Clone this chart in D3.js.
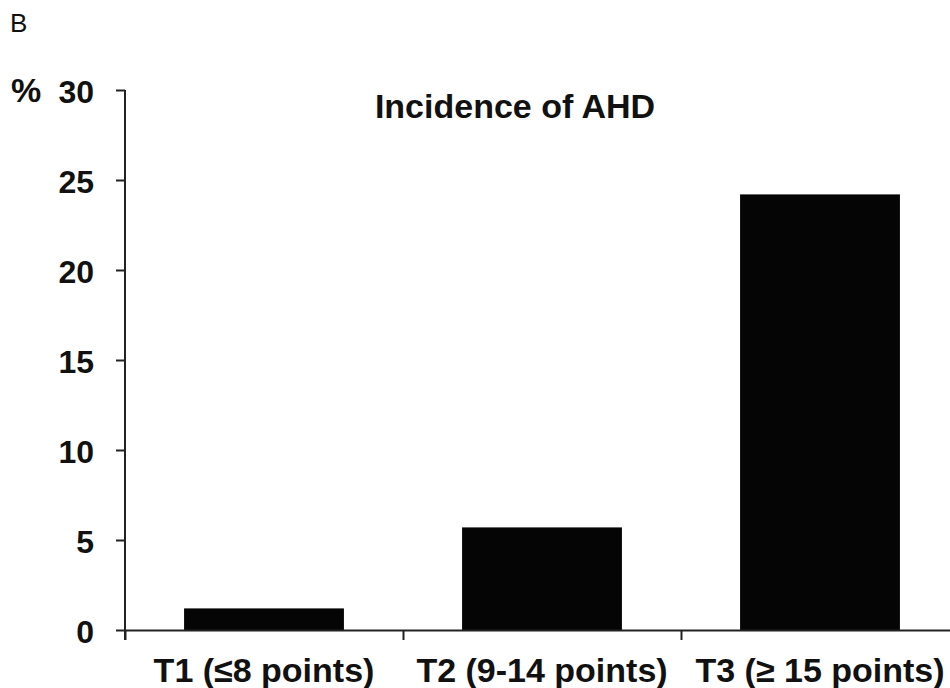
<!DOCTYPE html>
<html>
<head>
<meta charset="utf-8">
<script src="https://cdn.jsdelivr.net/npm/d3@7"></script>
<style>
  body { margin: 0; background: #fff; }
  svg { display: block; font-family: "Liberation Sans", Arial, sans-serif; }
  .tick text { font-size: 32px; font-weight: bold; fill: #111; }
  .axis path, .axis line { stroke: #222; stroke-width: 2px; }
</style>
</head>
<body>
<div id="chart"></div>
<script>
// chart values
const categories = ['T1 (≤8 points)', 'T2 (9-14 points)', 'T3 (≥ 15 points)'];
const incidence = [1.2, 5.7, 24.2];
const yTicks = [0, 5, 10, 15, 20, 25, 30];

const width = 950;
const height = 688;
const margin = { top: 90, right: -9, bottom: 58, left: 125 };

const svg = d3
  .select('#chart')
  .append('svg')
  .attr('width', width)
  .attr('height', height);

const plotW = width - margin.left - margin.right;
const plotH = height - margin.top - margin.bottom;

const g = svg.append('g').attr('transform', `translate(${margin.left},${margin.top})`);

// scales
const xScale = d3.scaleBand().domain(categories).range([0, plotW]).paddingInner(0.425).paddingOuter(0.2125);
const xEdges = d3.scaleLinear().domain([0, categories.length]).range([0, plotW]);
const yScale = d3.scaleLinear().domain([0, 30]).range([plotH, 0]);

// bars
g.selectAll('.bar')
  .data(incidence)
  .join('rect')
  .attr('class', 'bar')
  .attr('x', (d, i) => xScale(categories[i]))
  .attr('width', xScale.bandwidth())
  .attr('y', (d) => yScale(d))
  .attr('height', (d) => yScale(0) - yScale(d))
  .attr('fill', '#050505');

// x axis: line with ticks at category boundaries
g.append('g')
  .attr('class', 'axis')
  .attr('transform', `translate(0,${plotH})`)
  .call(d3.axisBottom(xEdges).tickValues(d3.range(categories.length + 1)).tickSize(10).tickSizeOuter(0).tickFormat(''));

// category labels
g.append('g')
  .selectAll('text')
  .data(categories)
  .join('text')
  .attr('x', (d) => xScale(d) + xScale.bandwidth() / 2)
  .attr('y', plotH + 52)
  .attr('text-anchor', 'middle')
  .style('font-size', '34px')
  .style('font-weight', 'bold')
  .style('fill', '#111')
  .text((d) => d);

// y axis
const yAxis = g.append('g')
  .attr('class', 'axis')
  .call(d3.axisLeft(yScale).tickValues(yTicks).tickSize(9).tickSizeOuter(0).tickPadding(22));
yAxis.selectAll('.tick text').attr('dy', '0.4em');
yAxis.select('.domain').attr('d', `M0,${yScale(30)}V${plotH + 10}`);

// "%" unit next to top tick
g.append('text')
  .attr('x', 11 - margin.left)
  .attr('y', yScale(30))
  .attr('dy', '0.36em')
  .style('font-size', '34px')
  .style('font-weight', 'bold')
  .style('fill', '#111')
  .text('%');

// title
g.append('text')
  .attr('x', 515 - margin.left)
  .attr('y', 28)
  .attr('text-anchor', 'middle')
  .style('font-size', '34px')
  .style('font-weight', 'bold')
  .style('fill', '#111')
  .text('Incidence of AHD');

// panel letter
svg.append('text')
  .attr('x', 10)
  .attr('y', 32)
  .style('font-size', '26px')
  .style('fill', '#111')
  .text('B');
</script>
</body>
</html>
